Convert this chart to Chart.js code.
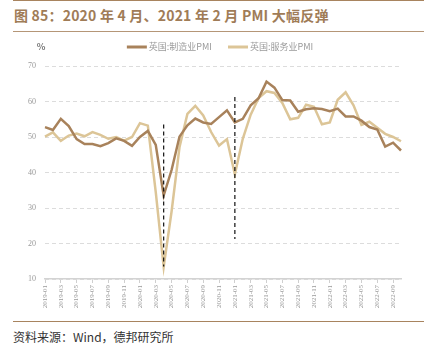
<!DOCTYPE html>
<html lang="zh">
<head>
  <meta charset="UTF-8" />
  <title>英国 PMI</title>
  <script src="https://cdn.jsdelivr.net/npm/chart.js"></script>
  <style>
    * { box-sizing: border-box; }
    body {
      margin: 0;
      width: 432px;
      height: 351px;
      background: #fff;
      position: relative;
      overflow: hidden;
      font-family: 'Noto Sans CJK SC', sans-serif;
    }
    .topline { position: absolute; left: 13px; top: 0; width: 411px; border-top: 1.5px solid #a8845f; }
    .title {
      position: absolute; left: 14px; top: 5px;
      font-size: 14px; font-weight: bold; color: #a07c57;
      white-space: nowrap; letter-spacing: 0.2px;
    }
    .titleline { position: absolute; left: 13px; top: 31px; width: 411px; border-top: 1px solid #b59677; }
    .chart-box { position: absolute; left: 0; top: 36px; width: 432px; height: 282px; }
    .bottomline { position: absolute; left: 13px; top: 321px; width: 411px; border-top: 1.5px solid #a8845f; }
    .source {
      position: absolute; left: 13px; top: 328px;
      font-size: 12px; color: #333; white-space: nowrap;
    }
  </style>
</head>
<body>
  <div class="topline"></div>
  <div class="title">图 85：2020 年 4 月、2021 年 2 月 PMI 大幅反弹</div>
  <div class="titleline"></div>
  <div class="chart-box"><canvas id="pmiChart" width="432" height="282"></canvas></div>
  <div class="bottomline"></div>
  <div class="source">资料来源：Wind，德邦研究所</div>

  <script>
    // months 2019-01 .. 2022-10
    const months = [
      '2019-01','2019-02','2019-03','2019-04','2019-05','2019-06','2019-07','2019-08','2019-09','2019-10','2019-11','2019-12',
      '2020-01','2020-02','2020-03','2020-04','2020-05','2020-06','2020-07','2020-08','2020-09','2020-10','2020-11','2020-12',
      '2021-01','2021-02','2021-03','2021-04','2021-05','2021-06','2021-07','2021-08','2021-09','2021-10','2021-11','2021-12',
      '2022-01','2022-02','2022-03','2022-04','2022-05','2022-06','2022-07','2022-08','2022-09','2022-10'
    ];

    const manufacturing = [
      52.8, 52.0, 55.1, 53.1, 49.4, 48.0, 48.0, 47.4, 48.3, 49.6, 48.9, 47.5,
      50.0, 51.7, 47.8, 33.5, 40.7, 50.1, 53.3, 55.2, 54.1, 53.7, 55.6, 57.5,
      54.1, 55.1, 58.9, 60.9, 65.6, 63.9, 60.4, 60.3, 57.1, 57.8, 58.1, 57.9,
      57.3, 58.0, 55.8, 55.8, 54.6, 52.8, 52.1, 47.3, 48.4, 46.2
    ];

    const services = [
      50.1, 51.3, 48.9, 50.4, 51.0, 50.2, 51.4, 50.6, 49.5, 50.0, 49.0, 50.0,
      53.9, 53.2, 34.5, 13.4, 29.0, 47.1, 56.5, 58.8, 56.1, 51.4, 47.6, 49.4,
      39.5, 49.5, 56.3, 61.0, 62.9, 62.4, 59.6, 55.0, 55.4, 59.1, 58.5, 53.6,
      54.1, 60.5, 62.6, 58.9, 53.4, 54.3, 52.6, 50.9, 50.0, 48.8
    ];

    const yTicks = [10, 20, 30, 40, 50, 60, 70];

    // dashed marker lines: month index, top value, bottom value
    const markIndex = [15, 24];
    const markTop = [53.5, 61.3];
    const markBottom = [13.5, 21.3];

    const mfgColor = '#a8825b';
    const svcColor = '#dcc597';

    // legend + unit label drawn by hand
    const legendPlugin = {
      id: 'customLegend',
      afterDraw(chart) {
        const ctx = chart.ctx;
        ctx.save();
        ctx.font = '9px "Noto Sans CJK SC"';
        ctx.textBaseline = 'middle';
        const sets = chart.data.datasets;
        const lineW = 20, gapText = 2, gapItem = 16;
        const widths = sets.map(d => lineW + gapText + ctx.measureText(d.label).width);
        const total = widths.reduce((a, b) => a + b, 0) + gapItem * (sets.length - 1);
        let x = 220 - total / 2;
        const y = 11;
        sets.forEach((d, i) => {
          ctx.strokeStyle = d.borderColor;
          ctx.lineWidth = 3;
          ctx.beginPath();
          ctx.moveTo(x, y);
          ctx.lineTo(x + lineW, y);
          ctx.stroke();
          ctx.fillStyle = '#9a9a9a';
          ctx.fillText(d.label, x + lineW + gapText, y);
          x += widths[i] + gapItem;
        });
        ctx.font = 'bold 9px "Noto Sans CJK SC"';
        ctx.fillStyle = '#777';
        ctx.textAlign = 'center';
        ctx.fillText('%', 41, y);
        ctx.restore();
      }
    };

    const markerPlugin = {
      id: 'markers',
      afterDatasetsDraw(chart) {
        const ctx = chart.ctx;
        const xs = chart.scales.x, ys = chart.scales.y;
        ctx.save();
        ctx.strokeStyle = '#111';
        ctx.lineWidth = 1.2;
        ctx.setLineDash([4, 3]);
        markIndex.forEach((idx, i) => {
          const px = xs.getPixelForValue(idx);
          ctx.beginPath();
          ctx.moveTo(px, ys.getPixelForValue(markTop[i]));
          ctx.lineTo(px, ys.getPixelForValue(markBottom[i]));
          ctx.stroke();
        });
        ctx.restore();
      }
    };

    new Chart(document.getElementById('pmiChart').getContext('2d'), {
      type: 'line',
      data: {
        labels: months,
        datasets: [
          {
            label: '英国:制造业PMI',
            data: manufacturing,
            borderColor: mfgColor,
            backgroundColor: mfgColor,
            borderWidth: 2.5,
            pointRadius: 0,
            tension: 0
          },
          {
            label: '英国:服务业PMI',
            data: services,
            borderColor: svcColor,
            backgroundColor: svcColor,
            borderWidth: 2.5,
            pointRadius: 0,
            tension: 0
          }
        ]
      },
      options: {
        responsive: false,
        animation: false,
        layout: { padding: { left: 0, right: 31, top: 30, bottom: 0 } },
        plugins: {
          legend: { display: false },
          tooltip: { enabled: false }
        },
        scales: {
          x: {
            afterFit(scale) { scale.height = 39; },
            ticks: {
              autoSkip: false,
              maxRotation: 90,
              minRotation: 90,
              padding: 2,
              color: '#999',
              font: { family: 'Liberation Serif', size: 7 },
              callback: (v, i) => (i % 2 === 0 ? months[i] : null)
            },
            grid: {
              display: true,
              drawOnChartArea: false,
              drawTicks: true,
              tickLength: 4,
              color: '#cfcfcf'
            },
            border: { display: true, color: '#d3d3d3', width: 1.5 }
          },
          y: {
            min: 10,
            max: 70,
            afterFit(scale) { scale.width = 45; },
            afterBuildTicks(scale) { scale.ticks = yTicks.map(v => ({ value: v })); },
            ticks: {
              padding: 9,
              color: '#999',
              font: { family: 'Liberation Serif', size: 8 }
            },
            grid: { color: '#dcdcdc', drawTicks: false, lineWidth: 1 },
            border: { display: false, dash: [4, 3] }
          }
        }
      },
      plugins: [legendPlugin, markerPlugin]
    });
  </script>
</body>
</html>
